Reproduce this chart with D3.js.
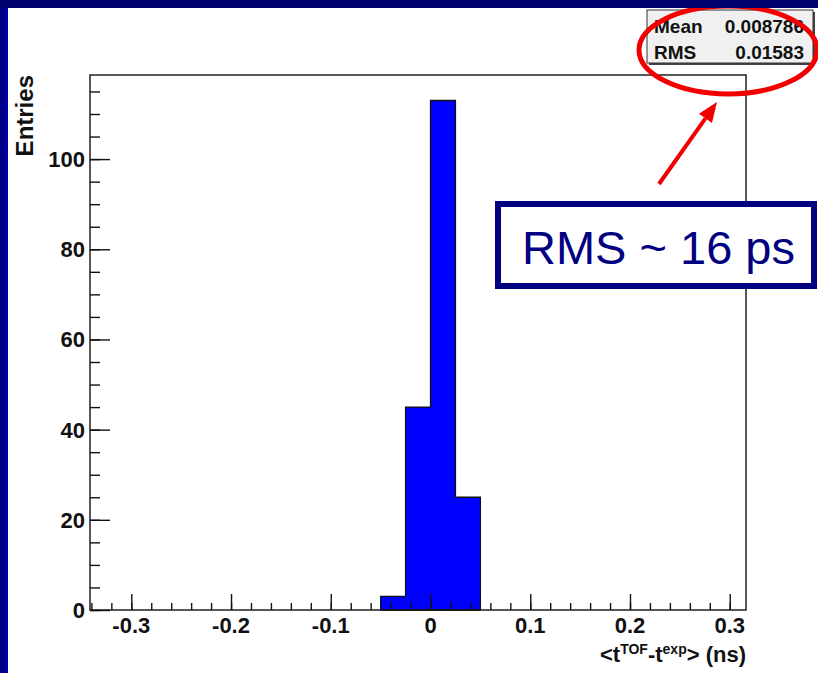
<!DOCTYPE html>
<html>
<head>
<meta charset="utf-8">
<script src="https://cdn.jsdelivr.net/npm/d3@7"></script>
<style>
  html, body { margin: 0; padding: 0; background: #fff; }
  svg { display: block; }
  text { font-family: "Liberation Sans", Arial, Helvetica, sans-serif; }
</style>
</head>
<body>
<svg id="chart" width="818" height="673"></svg>
<script>
// Histogram of the mean TOF residual
const binEdges = [-0.05, -0.025, 0, 0.025, 0.05];
const counts = [3, 45, 113, 25];
const xTickValues = [-0.3, -0.2, -0.1, 0, 0.1, 0.2, 0.3];
const yTickValues = [0, 20, 40, 60, 80, 100];
const statLabels = ["Mean", "RMS"];
const statValues = ["0.008786", "0.01583"];
const noteText = "RMS ~ 16 ps";

const svg = d3.select("#chart");
const W = 818, H = 673;
const frame = { left: 90, right: 746, top: 75, bottom: 610 };

svg.append("rect").attr("width", W).attr("height", H).attr("fill", "#fff");

const x = d3.scaleLinear().domain([-0.3414, 0.3163]).range([frame.left, frame.right]);
const yMax = d3.max(counts) * 1.05;
const y = d3.scaleLinear().domain([0, yMax]).range([frame.bottom, frame.top]);

// Histogram as a step outline
const bins = counts.map((c, i) => ({ x0: binEdges[i], x1: binEdges[i + 1], n: c }));
const pts = [[x(bins[0].x0), y(0)]];
bins.forEach(b => { pts.push([x(b.x0), y(b.n)]); pts.push([x(b.x1), y(b.n)]); });
pts.push([x(bins[bins.length - 1].x1), y(0)]);
svg.append("path")
  .attr("d", d3.line()(pts) + "Z")
  .attr("fill", "#0000ff")
  .attr("stroke", "#111")
  .attr("stroke-width", 1.3);

// Frame
svg.append("rect")
  .attr("x", frame.left).attr("y", frame.top)
  .attr("width", frame.right - frame.left).attr("height", frame.bottom - frame.top)
  .attr("fill", "none").attr("stroke", "#111").attr("stroke-width", 1.4);

const fmt = v => String(+v.toFixed(2)); // plain hyphen minus

// X axis: ticks pointing inward
const xMinor = d3.range(-0.34, 0.3001, 0.02).filter(v => v >= x.domain()[0] && v <= x.domain()[1]);
const gx = svg.append("g").attr("transform", `translate(0,${frame.bottom})`);
gx.call(d3.axisBottom(x).tickValues(xMinor).tickSize(-7).tickFormat(""))
  .call(g => g.select(".domain").remove());
gx.append("g").call(d3.axisBottom(x).tickValues(xTickValues).tickSize(-16).tickFormat(""))
  .call(g => g.select(".domain").remove());
gx.selectAll("line").attr("stroke", "#111").attr("stroke-width", 1.4);
gx.append("g").selectAll("text").data(xTickValues).join("text")
  .attr("x", d => x(d)).attr("y", 23)
  .attr("text-anchor", "middle")
  .attr("font-size", 22).attr("font-weight", "bold").attr("fill", "#111")
  .text(fmt);

// Y axis
const yMinor = d3.range(0, 116, 5);
const gy = svg.append("g").attr("transform", `translate(${frame.left},0)`);
gy.call(d3.axisLeft(y).tickValues(yMinor).tickSize(-10).tickFormat(""))
  .call(g => g.select(".domain").remove());
gy.append("g").call(d3.axisLeft(y).tickValues(yTickValues).tickSize(-20).tickFormat(""))
  .call(g => g.select(".domain").remove());
gy.selectAll("line").attr("stroke", "#111").attr("stroke-width", 1.4);
gy.append("g").selectAll("text").data(yTickValues).join("text")
  .attr("x", -5).attr("y", d => y(d) + 8)
  .attr("text-anchor", "end")
  .attr("font-size", 22).attr("font-weight", "bold").attr("fill", "#111")
  .text(d => d);

// Axis titles
svg.append("text")
  .attr("transform", `translate(33,${frame.top}) rotate(-90)`)
  .attr("text-anchor", "end")
  .attr("font-size", 24).attr("font-weight", "bold").attr("fill", "#111")
  .text("Entries");

const xt = svg.append("text")
  .attr("x", frame.right).attr("y", 662)
  .attr("text-anchor", "end")
  .attr("font-size", 22).attr("font-weight", "bold").attr("fill", "#111");
xt.append("tspan").text("<t");
xt.append("tspan").attr("dy", -8).attr("font-size", 14).text("TOF");
xt.append("tspan").attr("dy", 8).text("-t");
xt.append("tspan").attr("dy", -8).attr("font-size", 14).text("exp");
xt.append("tspan").attr("dy", 8).text("> (ns)");

// Statistics box
const sb = { x: 647, y: 10, w: 166, h: 53 };
svg.append("rect").attr("x", sb.x + 2).attr("y", sb.y + 2).attr("width", sb.w).attr("height", sb.h).attr("fill", "#444");
svg.append("rect").attr("x", sb.x).attr("y", sb.y).attr("width", sb.w).attr("height", sb.h)
  .attr("fill", "#f0f0f0").attr("stroke", "#333").attr("stroke-width", 1);
statLabels.forEach((lab, i) => {
  const by = [33, 59][i];
  svg.append("text").attr("x", 654).attr("y", by)
    .attr("font-size", 19).attr("font-weight", "bold").attr("fill", "#111").text(lab);
  svg.append("text").attr("x", 804).attr("y", by).attr("text-anchor", "end")
    .attr("font-size", 19).attr("font-weight", "bold").attr("fill", "#111").text(statValues[i]);
});

// Red highlight ellipse around the statistics
svg.append("ellipse")
  .attr("cx", 728).attr("cy", 50).attr("rx", 89).attr("ry", 44)
  .attr("fill", "none").attr("stroke", "#f00000").attr("stroke-width", 5);

// Blue slide border
const grad = svg.append("defs").append("linearGradient").attr("id", "lb").attr("x1", 0).attr("x2", 1);
grad.append("stop").attr("offset", 0).attr("stop-color", "#000085");
grad.append("stop").attr("offset", 1).attr("stop-color", "#0000a0");
svg.append("rect").attr("x", 0).attr("y", 0).attr("width", 8).attr("height", H).attr("fill", "url(#lb)");
svg.append("rect").attr("x", 0).attr("y", 0).attr("width", W).attr("height", 8).attr("fill", "#00006e");

// Annotation box
svg.append("rect")
  .attr("x", 498).attr("y", 204).attr("width", 316).attr("height", 82)
  .attr("fill", "#fff").attr("stroke", "#000080").attr("stroke-width", 6);
const note = svg.append("text")
  .attr("x", 522).attr("y", 264)
  .attr("font-family", "Tahoma, 'DejaVu Sans', Verdana, sans-serif")
  .attr("font-size", 48).attr("fill", "#000080")
  .text(noteText);
const nl = note.node().getComputedTextLength();
note.attr("font-size", 48 * 273 / nl);

// Arrow pointing at the statistics
const tail = [659, 184], tip = [717, 102];
const ang = Math.atan2(tip[1] - tail[1], tip[0] - tail[0]);
const headLen = 20, headW = 8;
const base = [tip[0] - headLen * Math.cos(ang), tip[1] - headLen * Math.sin(ang)];
svg.append("line")
  .attr("x1", tail[0]).attr("y1", tail[1]).attr("x2", base[0]).attr("y2", base[1])
  .attr("stroke", "#f00000").attr("stroke-width", 4);
svg.append("polygon")
  .attr("points", [
    tip,
    [base[0] + headW * Math.sin(ang), base[1] - headW * Math.cos(ang)],
    [base[0] - headW * Math.sin(ang), base[1] + headW * Math.cos(ang)]
  ].map(p => p.join(",")).join(" "))
  .attr("fill", "#f00000");
</script>
</body>
</html>
